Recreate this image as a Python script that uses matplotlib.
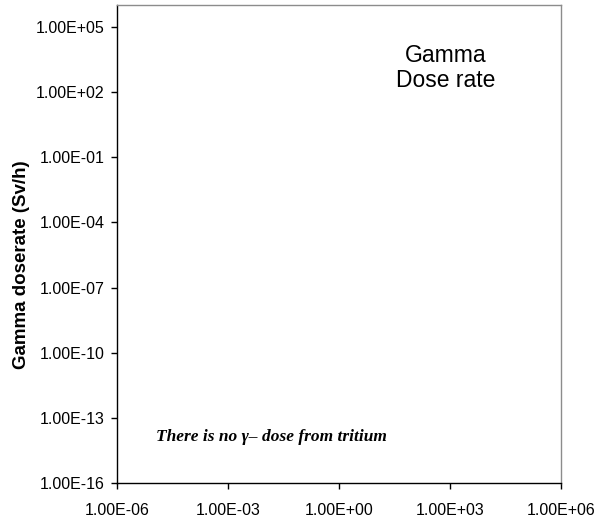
import matplotlib
matplotlib.use("Agg")
import matplotlib.pyplot as plt
from matplotlib.ticker import FixedLocator, FuncFormatter, NullLocator

# axis ranges / ticks (log scales)
x_ticks = [1e-6, 1e-3, 1e0, 1e3, 1e6]
y_ticks = [1e-16, 1e-13, 1e-10, 1e-7, 1e-4, 1e-1, 1e2, 1e5]
x_range = (1e-6, 1e6)
y_range = (1e-16, 1e6)

plt.rcParams["font.family"] = ["Liberation Sans", "DejaVu Sans"]

fig = plt.figure(figsize=(6.09, 5.24), dpi=100)
ax = fig.add_axes([0.192, 0.078, 0.729, 0.912])

ax.set_xscale("log")
ax.set_yscale("log")
ax.set_xlim(*x_range)
ax.set_ylim(*y_range)

ax.xaxis.set_major_locator(FixedLocator(x_ticks))
ax.yaxis.set_major_locator(FixedLocator(y_ticks))
ax.xaxis.set_minor_locator(NullLocator())
ax.yaxis.set_minor_locator(NullLocator())
fmt = FuncFormatter(lambda v, p: f"{v:.2E}")
ax.xaxis.set_major_formatter(fmt)
ax.yaxis.set_major_formatter(fmt)
ax.tick_params(axis="both", direction="out", length=4, width=1, labelsize=11.5)
ax.tick_params(axis="y", pad=5)
ax.tick_params(axis="x", pad=10)

for s in ("left", "bottom"):
    ax.spines[s].set_color("black")
    ax.spines[s].set_linewidth(1)
for s in ("top", "right"):
    ax.spines[s].set_color("#8c8c8c")
    ax.spines[s].set_linewidth(1)

# y axis title, placed by hand (sits a bit below axis middle in the original)
ax.text(-0.216, 0.458, "Gamma doserate (Sv/h)", transform=ax.transAxes,
        rotation=90, ha="center", va="center", fontsize=13.5, fontweight="bold")

ax.text(0.741, 0.918, "Gamma\nDose rate", transform=ax.transAxes, ha="center", va="top",
        fontsize=16.5, linespacing=1.1)
ax.text(0.347, 0.096, "There is no \u03b3\u2013 dose from tritium", transform=ax.transAxes,
        ha="center", va="center", fontsize=12.5, fontweight="bold", fontstyle="italic",
        family=["Liberation Serif", "DejaVu Serif"])

fig.savefig("out.png", dpi=100)
